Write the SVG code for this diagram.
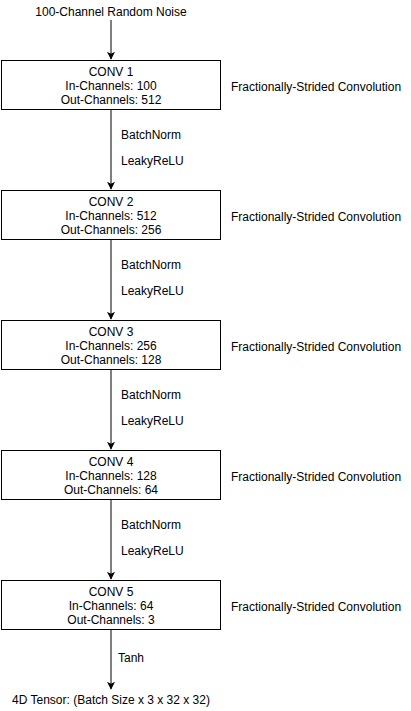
<svg xmlns="http://www.w3.org/2000/svg" width="411" height="711" viewBox="0 0 411 711">
<defs>
<style>
text{font-family:"Liberation Sans",Arial,sans-serif;font-size:12px;fill:#000}
.c{text-anchor:middle}
.box{fill:#fff;stroke:#000;stroke-width:1}
.edge{stroke:#000;stroke-width:1;fill:none}
</style>
<marker id="ah" viewBox="0 0 10 10" refX="9" refY="5" markerWidth="8" markerHeight="8" markerUnits="userSpaceOnUse" orient="auto">
<path d="M0,0 L10,5 L0,10 L2.5,5 Z" fill="#000"/>
</marker>
</defs>
<rect width="411" height="711" fill="#fff"/>
<g id="connectors">
<line class="edge" x1="111" y1="20" x2="111" y2="59" marker-end="url(#ah)"/>
<line class="edge" x1="111" y1="110" x2="111" y2="189" marker-end="url(#ah)"/>
<line class="edge" x1="111" y1="240" x2="111" y2="319" marker-end="url(#ah)"/>
<line class="edge" x1="111" y1="370" x2="111" y2="449" marker-end="url(#ah)"/>
<line class="edge" x1="111" y1="500" x2="111" y2="579" marker-end="url(#ah)"/>
<line class="edge" x1="111" y1="630" x2="111" y2="689" marker-end="url(#ah)"/>
<text x="121" y="139">BatchNorm</text>
<text x="121" y="165">LeakyReLU</text>
<text x="121" y="269">BatchNorm</text>
<text x="121" y="295">LeakyReLU</text>
<text x="121" y="399">BatchNorm</text>
<text x="121" y="425">LeakyReLU</text>
<text x="121" y="529">BatchNorm</text>
<text x="121" y="555">LeakyReLU</text>
<text x="118" y="662">Tanh</text>
</g>
<g id="input"><text class="c" x="111" y="16">100-Channel Random Noise</text></g>
<g id="conv1">
<rect class="box" x="1.5" y="60.5" width="219" height="49"/>
<text class="c" x="111" y="76">CONV 1</text>
<text class="c" x="111" y="90">In-Channels: 100</text>
<text class="c" x="111" y="104">Out-Channels: 512</text>
</g>
<g id="conv2">
<rect class="box" x="1.5" y="190.5" width="219" height="49"/>
<text class="c" x="111" y="206">CONV 2</text>
<text class="c" x="111" y="220">In-Channels: 512</text>
<text class="c" x="111" y="234">Out-Channels: 256</text>
</g>
<g id="conv3">
<rect class="box" x="1.5" y="320.5" width="219" height="49"/>
<text class="c" x="111" y="336">CONV 3</text>
<text class="c" x="111" y="350">In-Channels: 256</text>
<text class="c" x="111" y="364">Out-Channels: 128</text>
</g>
<g id="conv4">
<rect class="box" x="1.5" y="450.5" width="219" height="49"/>
<text class="c" x="111" y="466">CONV 4</text>
<text class="c" x="111" y="480">In-Channels: 128</text>
<text class="c" x="111" y="494">Out-Channels: 64</text>
</g>
<g id="conv5">
<rect class="box" x="1.5" y="580.5" width="219" height="49"/>
<text class="c" x="111" y="596">CONV 5</text>
<text class="c" x="111" y="610">In-Channels: 64</text>
<text class="c" x="111" y="624">Out-Channels: 3</text>
</g>
<g id="labels">
<text x="231" y="91">Fractionally-Strided Convolution</text>
<text x="231" y="221">Fractionally-Strided Convolution</text>
<text x="231" y="351">Fractionally-Strided Convolution</text>
<text x="231" y="481">Fractionally-Strided Convolution</text>
<text x="231" y="611">Fractionally-Strided Convolution</text>
</g>
<g id="output"><text class="c" x="111" y="704">4D Tensor: (Batch Size x 3 x 32 x 32)</text></g>
</svg>
